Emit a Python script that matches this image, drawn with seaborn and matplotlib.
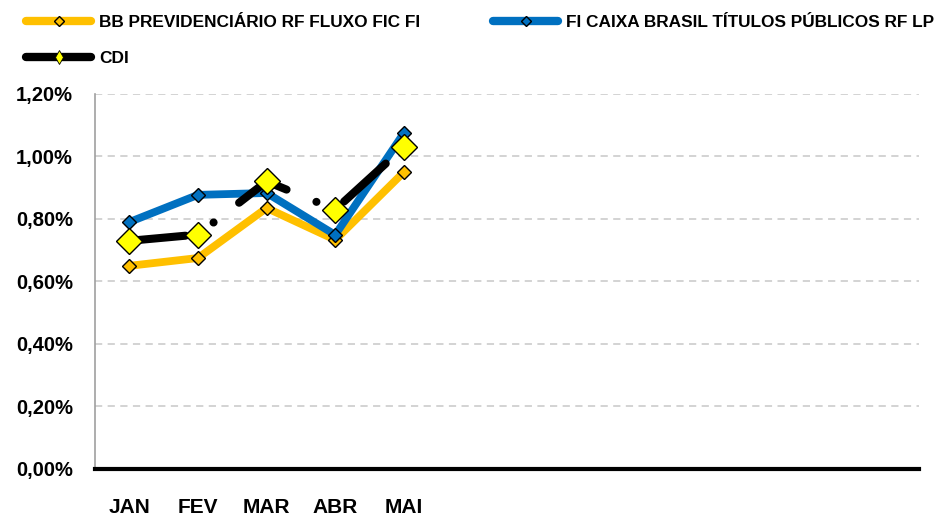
import matplotlib
matplotlib.use("Agg")
import matplotlib.pyplot as plt
from matplotlib.lines import Line2D
from matplotlib.ticker import FixedLocator, FuncFormatter
import seaborn as sns
import numpy as np

months = ["JAN", "FEV", "MAR", "ABR", "MAI", "", "", "", "", "", "", ""]
bb = [0.650, 0.675, 0.835, 0.733, 0.950]
caixa = [0.790, 0.877, 0.883, 0.749, 1.075]
cdi = [0.73, 0.75, 0.92, 0.83, 1.03]
names = ["BB PREVIDENCIÁRIO RF FLUXO FIC FI", "FI CAIXA BRASIL TÍTULOS PÚBLICOS RF LP", "CDI"]

sns.set_style("white")
FONT = ["Liberation Sans", "DejaVu Sans"]
plt.rcParams["font.family"] = FONT
plt.rcParams["text.color"] = "black"

fig = plt.figure(figsize=(9.37, 5.16), dpi=100)
ax = fig.add_axes([0.1014, 0.0911, 0.9805 - 0.1014, 0.818 - 0.0911])

x = np.arange(len(bb))
gold, blue = "#FFC000", "#0070C0"

sns.lineplot(x=x, y=bb, ax=ax, color=gold, lw=5.6, marker="D", ms=7,
             markerfacecolor=gold, markeredgecolor="black", markeredgewidth=1.0,
             solid_capstyle="round", zorder=3)
sns.lineplot(x=x, y=caixa, ax=ax, color=blue, lw=5.6, marker="D", ms=7,
             markerfacecolor=blue, markeredgecolor="black", markeredgewidth=1.0,
             solid_capstyle="round", zorder=4)
sns.lineplot(x=x, y=cdi, ax=ax, color="black", lw=5.8, marker="D", ms=13,
             markerfacecolor="#FFFF00", markeredgecolor="black", markeredgewidth=1.0,
             zorder=5)
ln = ax.lines[-1]
ln.set_dashes((7, 4, 0.01, 4))
ln.set_dash_capstyle("round")

ax.set_xlim(-0.5, len(months) - 0.5)
ax.set_ylim(0, 1.2)

# y axis
ax.set_yticks(np.arange(0, 1.21, 0.2))
ax.yaxis.set_major_formatter(FuncFormatter(lambda v, p: f"{v:.2f}%".replace(".", ",")))
ax.tick_params(axis="y", length=5, color="#A0A0A0", width=1, labelsize=14.5, pad=11,
               labelcolor="black")
for lab in ax.get_yticklabels():
    lab.set_fontweight("bold")
ax.grid(axis="y", color="#D0D0D0", ls=(0, (4, 3)), lw=1.3)
ax.set_axisbelow(True)

# x axis: ticks at boundaries, labels at centers
ax.xaxis.set_major_locator(FixedLocator(np.arange(-0.5, len(months), 1.0)))
ax.xaxis.set_minor_locator(FixedLocator(np.arange(len(months))))
ax.set_xticklabels([""] * (len(months) + 1))
ax.set_xticklabels(months, minor=True)
ax.tick_params(axis="x", which="major", length=6, width=2.5, color="black", direction="out")
ax.tick_params(axis="x", which="minor", length=0, labelsize=15, pad=21, labelcolor="black")
for lab in ax.get_xticklabels(minor=True):
    lab.set_fontweight("bold")

for s in ["top", "right"]:
    ax.spines[s].set_visible(False)
ax.spines["left"].set_color("#A0A0A0")
ax.spines["left"].set_linewidth(1.2)
ax.spines["bottom"].set_color("black")
ax.spines["bottom"].set_linewidth(3)

handles = [
    Line2D([], [], color=gold, lw=6, solid_capstyle="round", marker="D", ms=5,
           markerfacecolor=gold, markeredgecolor="black"),
    Line2D([], [], color="black", lw=6, solid_capstyle="round", marker="d", ms=7,
           markerfacecolor="#FFFF00", markeredgecolor="black", markeredgewidth=0.6),
    Line2D([], [], color=blue, lw=6, solid_capstyle="round", marker="D", ms=5,
           markerfacecolor=blue, markeredgecolor="black"),
]
labels = [names[0], names[2], names[1]]
leg = fig.legend(handles, labels, loc="upper left", bbox_to_anchor=(0.0277, 0.971), ncol=2,
                 frameon=False, handlelength=3.8, handletextpad=0.46, columnspacing=4.2,
                 labelspacing=1.23, borderpad=0, borderaxespad=0, labelcolor="black",
                 prop={"weight": "bold", "size": 12.4})

fig.savefig("out.png", dpi=100)
